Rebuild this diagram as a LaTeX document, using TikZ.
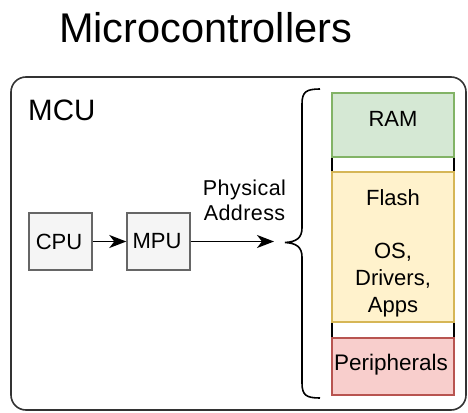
\documentclass[tikz,border=0pt]{standalone}
\usepackage{fontspec}
\setmainfont{Liberation Sans}
\usetikzlibrary{arrows.meta}
\definecolor{boxgray}{HTML}{F5F5F5}
\definecolor{boxline}{HTML}{666666}
\definecolor{ramfill}{HTML}{D5E8D4}
\definecolor{ramline}{HTML}{82B366}
\definecolor{flashfill}{HTML}{FFF2CC}
\definecolor{flashline}{HTML}{D6B656}
\definecolor{perfill}{HTML}{F8CECC}
\definecolor{perline}{HTML}{B85450}
\definecolor{outline}{HTML}{333333}
\tikzset{
  unitbox/.style={draw=boxline, fill=boxgray, line width=1.4pt, minimum width=63pt, minimum height=57pt, inner sep=0pt},
  membox/.style={line width=1.4pt, minimum width=122pt, inner sep=0pt},
  gapbox/.style={draw=black, fill=white, line width=1.8pt, minimum width=122pt, inner sep=0pt},
  txt/.style={font=\fontsize{22}{27}\selectfont, inner sep=0pt, align=center},
  arr/.style={line width=1.8pt, -{Stealth[length=17pt,width=13pt,inset=5pt]}}
}
\begin{document}
\begin{tikzpicture}[x=1pt,y=-1pt]
\useasboundingbox (0,0) rectangle (468,412);
\node[font=\fontsize{41.5}{44}\selectfont, inner sep=0pt, anchor=base west] (title) at (59,42) {Microcontrollers};
\draw[outline, line width=1.6pt, rounded corners=15pt] (11,77) rectangle (466,410);
\node[font=\fontsize{29.5}{32}\selectfont, inner sep=0pt, anchor=west] (mcu) at (28,110) {MCU};
\node[unitbox] (cpu) at (60.5,241.5) {};
\node[txt] (cputxt) at (59,241.5) {CPU};
\node[unitbox] (mpu) at (158.5,241.5) {};
\node[txt] (mputxt) at (157,241.5) {MPU};
\draw[arr] (cpu) -- (mpu);
\coordinate (pa) at (274,241.5);
\draw[arr] (mpu) -- (pa);
\node[txt, font=\fontsize{21.5}{25}\selectfont] (phys) at (244.5,200.5) {\addfontfeature{LetterSpace=2}Physical\\\addfontfeature{LetterSpace=2}Address};
% brace
\draw[line width=1.6pt] (320,89) .. controls (306,89) and (302,92) .. (302,104)
  -- (302,228) .. controls (302,238) and (296,242) .. (285,242.5)
  .. controls (296,243) and (302,247) .. (302,257)
  -- (302,383) .. controls (302,395) and (306,398) .. (320,398);
% memory map
\node[gapbox, minimum height=15pt] (gap1) at (393,164.5) {};
\node[gapbox, minimum height=16pt] (gap2) at (393,330) {};
\node[membox, draw=ramline, fill=ramfill, minimum height=64pt] (ram) at (393,125) {};
\node[txt] (ramtxt) at (393,119) {RAM};
\node[membox, draw=flashline, fill=flashfill, minimum height=150pt] (flash) at (393,247) {};
\node[txt] (flashtxt) at (393,198) {Flash};
\node[txt] (ostxt) at (393,280) {OS,\\Drivers,\\Apps};
\node[membox, draw=perline, fill=perfill, minimum height=57pt] (per) at (393,366.5) {};
\node[txt, font=\fontsize{22.5}{27}\selectfont] (pertxt) at (391,365) {Peripherals};
\end{tikzpicture}
\end{document}
